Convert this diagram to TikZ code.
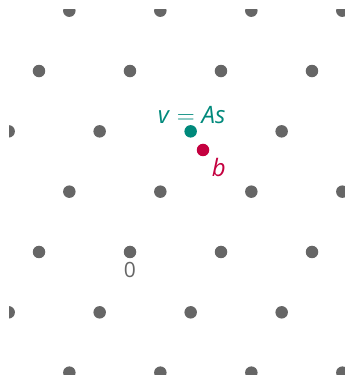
\documentclass[tikz,border=0pt]{standalone}
\usepackage{fontspec}
\setmainfont{Open Sans}
\usetikzlibrary{positioning}
\definecolor{latticegray}{HTML}{666666}
\definecolor{vcolor}{HTML}{00897B}
\definecolor{bcolor}{HTML}{C4003F}

\begin{document}
\begin{tikzpicture}[
  x=1pt, y=1pt,
  font=\fontsize{21}{25}\selectfont,
  latticept/.style={circle, fill=latticegray, inner sep=0pt, minimum size=12.5pt},
  vpoint/.style={latticept, fill=vcolor},
  bpoint/.style={latticept, fill=bcolor},
  ptlabel/.style={inner sep=1pt},
  mathlabel/.style={ptlabel, font=\fontsize{24}{28}\selectfont}
]
\useasboundingbox (0,0) rectangle (345,375);
\begin{scope}
\clip (9,0) rectangle (350,365);
\foreach \i in {-3,...,4} {
  \foreach \j in {-2,...,4} {
    \ifnum\i=0 \ifnum\j=2 \else
      \node[latticept] (p\i\j) at ({130+91*\i+30.33*\j},{123+60.33*\j}) {};
    \fi \else
      \node[latticept] (p\i\j) at ({130+91*\i+30.33*\j},{123+60.33*\j}) {};
    \fi
  }
}
\end{scope}
\node[vpoint] (vpt) at ({130+2*30.33},{123+2*60.33}) {};
\node[bpoint] (bpt) at (203,225) {};
\node[ptlabel, text=latticegray, below=3pt of p00] (zero) {0};
\node[mathlabel, text=vcolor, above=0pt of vpt, xshift=1pt] (vlabel) {\textit{v}$\;=\;$\textit{As}};
\node[mathlabel, text=bcolor, below right=3pt and 3pt of bpt] (blabel) {\textit{b}};
\end{tikzpicture}
\end{document}
